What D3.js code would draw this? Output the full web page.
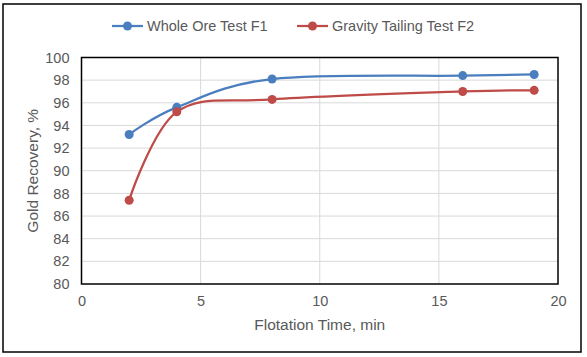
<!DOCTYPE html>
<html><head><meta charset="utf-8">
<script src="https://cdn.jsdelivr.net/npm/d3@7"></script>
<style>body{margin:0;background:#fff;font-family:"Liberation Sans",Arial,sans-serif;}</style>
</head><body>
<svg id="c" width="587" height="357"></svg>
<script>
const times = [2, 4, 8, 16, 19];
const wholeOre = [93.2, 95.6, 98.1, 98.4, 98.5];
const gravityTailing = [87.4, 95.2, 96.3, 97.0, 97.1];
const seriesNames = ["Whole Ore Test F1", "Gravity Tailing Test F2"];
const seriesColors = ["#4A7EBF", "#BE4B48"];
const xTicks = [0, 5, 10, 15, 20];
const yTicks = [80, 82, 84, 86, 88, 90, 92, 94, 96, 98, 100];

const svg = d3.select("#c");
const L = 81.5, R = 558, T = 57.5, B = 284;
const x = d3.scaleLinear().domain([0, 20]).range([L, R]);
const y = d3.scaleLinear().domain([80, 100]).range([B, T]);
const txt = "#595959";

svg.append("rect").attr("x", 3).attr("y", 4).attr("width", 578).attr("height", 348)
  .attr("fill", "#fff").attr("stroke", "#000").attr("stroke-width", 1.5);

// gridlines
svg.append("g").selectAll("line").data(yTicks.slice(1, -1)).join("line")
  .attr("x1", L).attr("x2", R).attr("y1", d => y(d)).attr("y2", d => y(d))
  .attr("stroke", "#D9D9D9").attr("stroke-width", 1);
svg.append("g").selectAll("line").data(xTicks.slice(1, -1)).join("line")
  .attr("y1", T).attr("y2", B).attr("x1", d => x(d)).attr("x2", d => x(d))
  .attr("stroke", "#D9D9D9").attr("stroke-width", 1);

svg.append("rect").attr("x", L).attr("y", T).attr("width", R - L).attr("height", B - T)
  .attr("fill", "none").attr("stroke", "#000").attr("stroke-width", 1.5);

// axes via d3
const xAxis = svg.append("g").attr("transform", `translate(0,${B})`)
  .call(d3.axisBottom(x).tickValues(xTicks).tickSize(0).tickPadding(12));
const yAxis = svg.append("g").attr("transform", `translate(${L},0)`)
  .call(d3.axisLeft(y).tickValues(yTicks).tickSize(0).tickPadding(12));
[xAxis, yAxis].forEach(a => {
  a.select(".domain").remove();
  a.selectAll("text").attr("fill", txt).style("font-size", "14.5px")
    .style("font-family", "'Liberation Sans', Arial, sans-serif");
});

svg.append("text").attr("x", (L + R) / 2).attr("y", 330).attr("text-anchor", "middle")
  .attr("fill", txt).style("font-size", "15.5px").text("Flotation Time, min");
svg.append("text").attr("transform", `translate(38,${(T + B) / 2}) rotate(-90)`)
  .attr("text-anchor", "middle").attr("fill", txt).style("font-size", "15.5px").text("Gold Recovery, %");

const data = [wholeOre, gravityTailing];
const line = d3.line().x(d => x(d[0])).y(d => y(d[1])).curve(d3.curveCatmullRom.alpha(0));
data.forEach((vals, i) => {
  const pts = times.map((t, j) => [t, vals[j]]);
  svg.append("path").attr("d", line(pts)).attr("fill", "none")
    .attr("stroke", seriesColors[i]).attr("stroke-width", 2.25);
  svg.append("g").selectAll("circle").data(pts).join("circle")
    .attr("cx", d => x(d[0])).attr("cy", d => y(d[1])).attr("r", 4.5)
    .attr("fill", seriesColors[i]);
});

// legend
const legX = [112, 297];
seriesNames.forEach((n, i) => {
  const g = svg.append("g").attr("transform", `translate(${legX[i]},26)`);
  g.append("line").attr("x1", 0).attr("x2", 31).attr("stroke", seriesColors[i]).attr("stroke-width", 2.25);
  g.append("circle").attr("cx", 15.5).attr("r", 4.5).attr("fill", seriesColors[i]);
  g.append("text").attr("x", 35).attr("y", 5).attr("fill", txt).style("font-size", "14.5px").text(n);
});
</script>
</body></html>
